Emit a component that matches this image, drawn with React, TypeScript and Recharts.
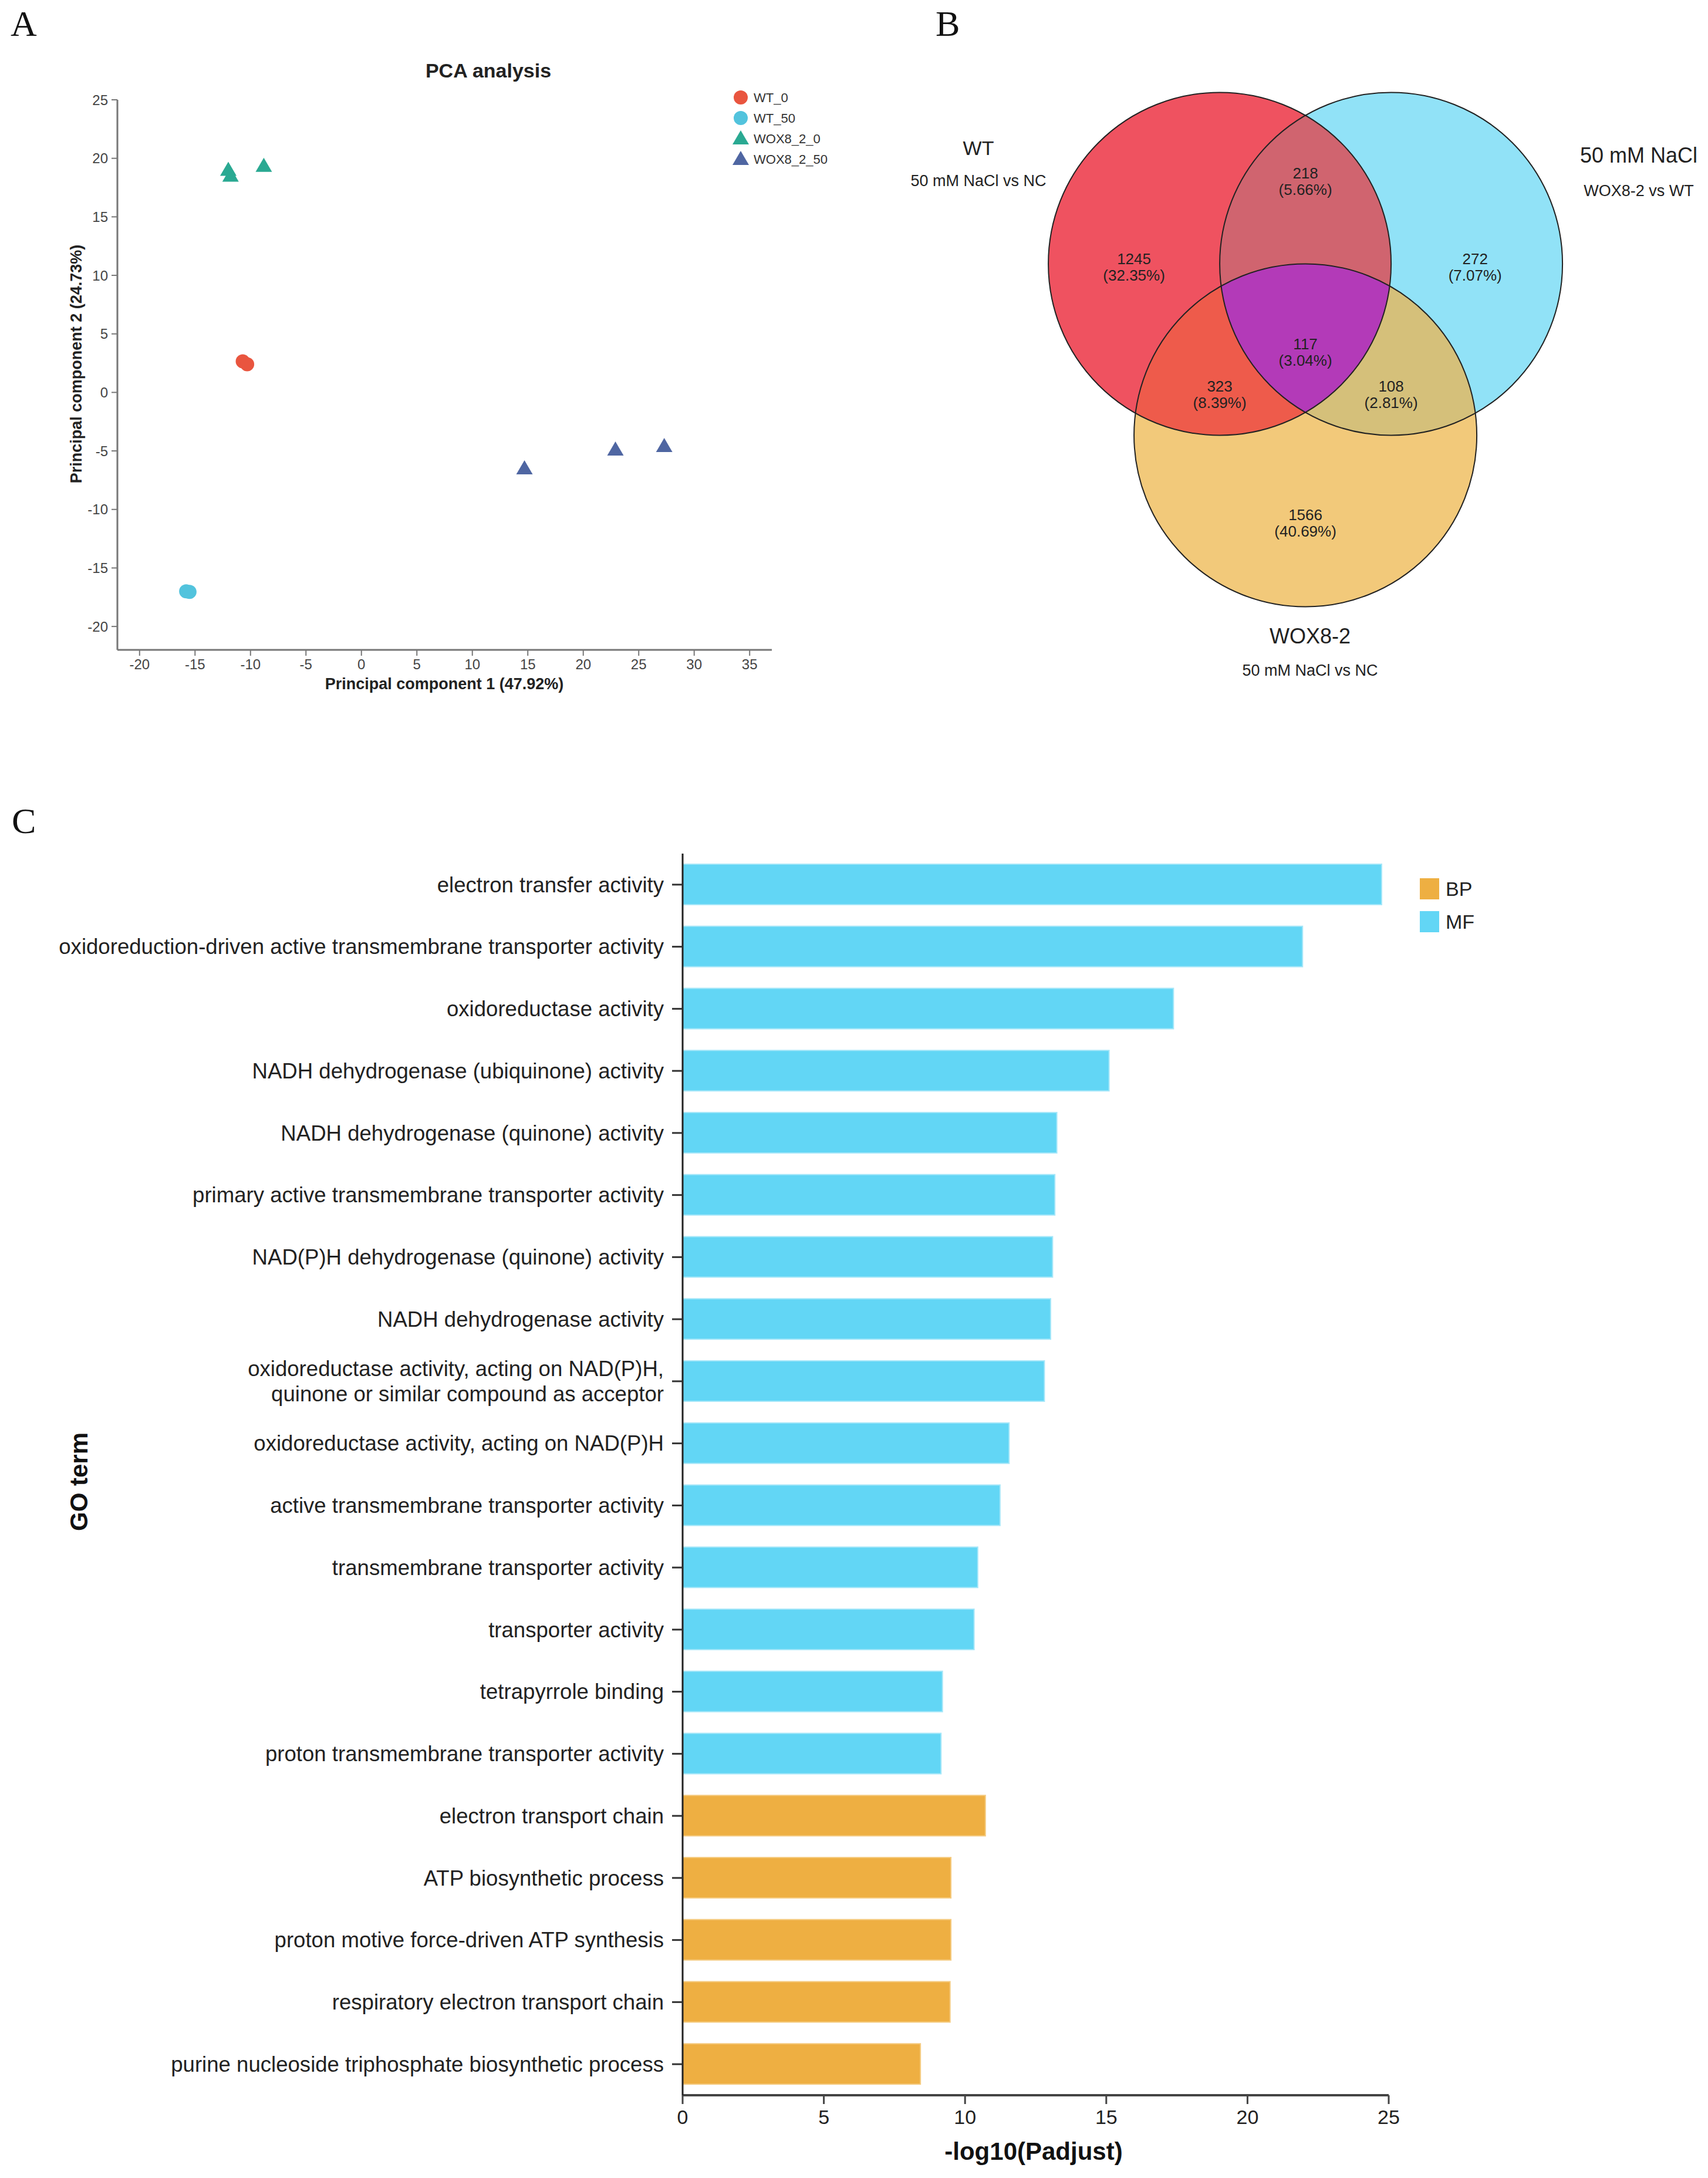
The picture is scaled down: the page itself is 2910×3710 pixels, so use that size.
import { Bar, BarChart, Cell, Scatter, ScatterChart, XAxis, YAxis } from 'recharts'

const SANS = '"Liberation Sans", Arial, sans-serif'
const SERIF = '"Liberation Serif", "Times New Roman", serif'

// ---- A: PCA ----
const PCA_GROUPS = ['WT_0', 'WT_50', 'WOX8_2_0', 'WOX8_2_50']
const PCA_COLORS = ['#E9553F', '#52C3DD', '#2AA992', '#4F66A2']
const PCA_SHAPES = ['circle', 'circle', 'triangle', 'triangle']
const WT_0 = [{ x: -10.7, y: 2.65 }, { x: -10.3, y: 2.4 }]
const WT_50 = [{ x: -15.8, y: -17.0 }, { x: -15.5, y: -17.05 }]
const WOX8_2_0 = [{ x: -12.0, y: 19.0 }, { x: -11.8, y: 18.5 }, { x: -8.8, y: 19.35 }]
const WOX8_2_50 = [{ x: 14.7, y: -6.5 }, { x: 22.9, y: -4.9 }, { x: 27.3, y: -4.6 }]
const PCA_DATA = [WT_0, WT_50, WOX8_2_0, WOX8_2_50]
const PCA_X_TICKS = [-20, -15, -10, -5, 0, 5, 10, 15, 20, 25, 30, 35]
const PCA_Y_TICKS = [-20, -15, -10, -5, 0, 5, 10, 15, 20, 25]

// ---- B: Venn (units of one circle radius) ----
const VENN_SETS = [
  { id: 'WT', x: -0.5, y: 0.5, color: '#EF5260' },
  { id: 'NaCl', x: 0.5, y: 0.5, color: '#91E2F7' },
  { id: 'WOX', x: 0, y: -0.5, color: '#F2C97A' },
]
const VENN_OVERLAPS = [
  { sets: ['WT', 'NaCl'], color: '#D0646F' },
  { sets: ['WT', 'WOX'], color: '#EE5B4B' },
  { sets: ['NaCl', 'WOX'], color: '#D5C07A' },
  { sets: ['WT', 'NaCl', 'WOX'], color: '#B33AB8' },
]
const VENN_REGIONS = [
  { x: -1.0, y: 0.48, count: '1245', pct: '(32.35%)' },
  { x: 0, y: 0.98, count: '218', pct: '(5.66%)' },
  { x: 0.99, y: 0.48, count: '272', pct: '(7.07%)' },
  { x: 0, y: -0.015, count: '117', pct: '(3.04%)' },
  { x: -0.5, y: -0.26, count: '323', pct: '(8.39%)' },
  { x: 0.5, y: -0.26, count: '108', pct: '(2.81%)' },
  { x: 0, y: -1.01, count: '1566', pct: '(40.69%)' },
]
const VENN_W = 1460
const VENN_H = 1200
const VENN_X_DOMAIN = [-2.651, 2.349]
const VENN_Y_DOMAIN = [-2.07, 2.039]
const VENN_R_PX = VENN_W / (VENN_X_DOMAIN[1] - VENN_X_DOMAIN[0])

// ---- C: GO enrichment ----
const GO_TERMS = [
  'electron transfer activity',
  'oxidoreduction-driven active transmembrane transporter activity',
  'oxidoreductase activity',
  'NADH dehydrogenase (ubiquinone) activity',
  'NADH dehydrogenase (quinone) activity',
  'primary active transmembrane transporter activity',
  'NAD(P)H dehydrogenase (quinone) activity',
  'NADH dehydrogenase activity',
  'oxidoreductase activity, acting on NAD(P)H,\nquinone or similar compound as acceptor',
  'oxidoreductase activity, acting on NAD(P)H',
  'active transmembrane transporter activity',
  'transmembrane transporter activity',
  'transporter activity',
  'tetrapyrrole binding',
  'proton transmembrane transporter activity',
  'electron transport chain',
  'ATP biosynthetic process',
  'proton motive force-driven ATP synthesis',
  'respiratory electron transport chain',
  'purine nucleoside triphosphate biosynthetic process',
]
const GO_VALUES = [24.75, 21.95, 17.38, 15.1, 13.25, 13.18, 13.1, 13.03, 12.81, 11.56, 11.24, 10.45, 10.32, 9.2, 9.15, 10.72, 9.5, 9.5, 9.47, 8.42]
const GO_TYPES = ['MF', 'MF', 'MF', 'MF', 'MF', 'MF', 'MF', 'MF', 'MF', 'MF', 'MF', 'MF', 'MF', 'MF', 'MF', 'BP', 'BP', 'BP', 'BP', 'BP']
const GO_COLORS: Record<string, string> = { BP: '#EEAF42', MF: '#62D6F5' }
const GO_STROKES: Record<string, string> = { BP: '#F5CC82', MF: '#A6E7F9' }
const GO_X_TICKS = [0, 5, 10, 15, 20, 25]

const goRows = GO_TERMS.map((term, i) => ({ term, value: GO_VALUES[i], type: GO_TYPES[i] }))

function PcaShape(kind: string, color: string) {
  return (p: any) => {
    const { cx, cy } = p
    if (kind === 'circle') return <circle cx={cx} cy={cy} r={12} fill={color} />
    return <polygon points={`${cx},${cy - 14} ${cx - 14},${cy + 10} ${cx + 14},${cy + 10}`} fill={color} />
  }
}

function SetShape(p: any) {
  const { cx, cy, payload } = p
  return (
    <g>
      <defs>
        <clipPath id={`venn-${payload.id}`}>
          <circle cx={cx} cy={cy} r={VENN_R_PX} />
        </clipPath>
      </defs>
      <circle cx={cx} cy={cy} r={VENN_R_PX} fill={payload.color} />
    </g>
  )
}

function OverlapShape(p: any) {
  const { cx, cy, payload } = p
  let node = <circle cx={cx} cy={cy} r={VENN_R_PX} fill={payload.color} />
  for (const c of payload.clips as string[]) node = <g clipPath={`url(#venn-${c})`}>{node}</g>
  return node
}

function OutlineShape(p: any) {
  return <circle cx={p.cx} cy={p.cy} r={VENN_R_PX} fill="none" stroke="#222" strokeWidth={2} />
}

function RegionLabel(p: any) {
  const { cx, cy, payload } = p
  return (
    <text x={cx} y={cy} textAnchor="middle" fontSize={26} fill="#222" fontFamily={SANS}>
      <tspan x={cx} y={cy - 14} dy="0.35em">{payload.count}</tspan>
      <tspan x={cx} y={cy + 14} dy="0.35em">{payload.pct}</tspan>
    </text>
  )
}

function TermTick(p: any) {
  const { x, y, payload } = p
  const lines = String(payload.value).split('\n')
  const first = -(lines.length - 1) * 21.5
  return (
    <text x={x} y={y} textAnchor="end" fontSize={36.6} fill="#222" fontFamily={SANS}>
      {lines.map((l, i) => (
        <tspan key={i} x={x} y={y + first + i * 43} dy="0.35em">{l}</tspan>
      ))}
    </text>
  )
}

const overlapData = VENN_OVERLAPS.map((o) => {
  const base = VENN_SETS.find((s) => s.id === o.sets[0])!
  return { x: base.x, y: base.y, clips: o.sets.slice(1), color: o.color }
})

export default function App() {
  const pcaTick = { fontSize: 24, fill: '#444', fontFamily: SANS }
  return (
    <div style={{ position: 'absolute', left: 0, top: 0, width: 2910, height: 3710, background: '#fff', fontFamily: SANS }}>
      {/* A */}
      <div style={{ position: 'absolute', left: 0, top: 0 }}>
        <ScatterChart width={1400} height={1200} margin={{ top: 170, right: 85, bottom: 33, left: 120 }}>
          <XAxis type="number" dataKey="x" domain={[-22, 37]} ticks={PCA_X_TICKS} interval={0} height={60}
            tick={pcaTick} tickSize={10} tickMargin={6} axisLine={{ stroke: '#777', strokeWidth: 3 }} tickLine={{ stroke: '#777', strokeWidth: 2 }} />
          <YAxis type="number" dataKey="y" domain={[-22, 25]} ticks={PCA_Y_TICKS} interval={0} width={80}
            tick={pcaTick} tickSize={10} tickMargin={6} axisLine={{ stroke: '#777', strokeWidth: 3 }} tickLine={{ stroke: '#777', strokeWidth: 2 }} />
          {PCA_GROUPS.map((g, i) => (
            <Scatter key={g} name={g} data={PCA_DATA[i]} isAnimationActive={false} shape={PcaShape(PCA_SHAPES[i], PCA_COLORS[i])} />
          ))}
        </ScatterChart>
      </div>

      {/* B */}
      <div style={{ position: 'absolute', left: 1450, top: 0 }}>
        <ScatterChart width={VENN_W} height={VENN_H} margin={{ top: 0, right: 0, bottom: 0, left: 0 }}>
          <XAxis type="number" dataKey="x" domain={VENN_X_DOMAIN} hide />
          <YAxis type="number" dataKey="y" domain={VENN_Y_DOMAIN} hide />
          <Scatter data={VENN_SETS} isAnimationActive={false} shape={SetShape} />
          <Scatter data={overlapData} isAnimationActive={false} shape={OverlapShape} />
          <Scatter data={VENN_SETS} isAnimationActive={false} shape={OutlineShape} />
          <Scatter data={VENN_REGIONS} isAnimationActive={false} shape={RegionLabel} />
        </ScatterChart>
      </div>

      {/* C */}
      <div style={{ position: 'absolute', left: 0, top: 1400 }}>
        <BarChart layout="vertical" width={2600} height={2310} data={goRows} margin={{ top: 54, right: 234, bottom: 61, left: 0 }}>
          <XAxis type="number" domain={[0, 25]} ticks={GO_X_TICKS} interval={0} height={80}
            tick={{ fontSize: 34, fill: '#222', fontFamily: SANS }} tickSize={15} tickMargin={10}
            axisLine={{ stroke: '#444', strokeWidth: 4 }} tickLine={{ stroke: '#444', strokeWidth: 3 }} />
          <YAxis type="category" dataKey="term" width={1163} interval={0} tick={TermTick} tickSize={18} tickMargin={14}
            axisLine={{ stroke: '#222', strokeWidth: 3 }} tickLine={{ stroke: '#333', strokeWidth: 3 }} />
          <Bar dataKey="value" barSize={69} isAnimationActive={false} strokeWidth={2}>
            {goRows.map((r, i) => (
              <Cell key={i} fill={GO_COLORS[r.type]} stroke={GO_STROKES[r.type]} />
            ))}
          </Bar>
        </BarChart>
      </div>

      {/* text overlay */}
      <svg width={2910} height={3710} style={{ position: 'absolute', left: 0, top: 0, pointerEvents: 'none' }} fontFamily={SANS}>
        <text x={18} y={61} fontFamily={SERIF} fontSize={62} fill="#111">A</text>
        <text x={1594} y={61} fontFamily={SERIF} fontSize={62} fill="#111">B</text>
        <text x={20} y={1419} fontFamily={SERIF} fontSize={62} fill="#111">C</text>

        <text x={832} y={120} textAnchor="middle" dominantBaseline="central" fontSize={34} fontWeight="bold" fill="#222">PCA analysis</text>
        <text x={757} y={1165} textAnchor="middle" dominantBaseline="central" fontSize={27} fontWeight="bold" fill="#222">Principal component 1 (47.92%)</text>
        <text transform="translate(130,620) rotate(-90)" textAnchor="middle" dominantBaseline="central" fontSize={27} fontWeight="bold" fill="#222">Principal component 2 (24.73%)</text>
        {PCA_GROUPS.map((g, i) => {
          const y = 166 + i * 35
          return (
            <g key={g}>
              {PCA_SHAPES[i] === 'circle'
                ? <circle cx={1262} cy={y} r={12} fill={PCA_COLORS[i]} />
                : <polygon points={`1262,${y - 14} 1248,${y + 10} 1276,${y + 10}`} fill={PCA_COLORS[i]} />}
              <text x={1284} y={y} dominantBaseline="central" fontSize={22} fill="#333">{g}</text>
            </g>
          )
        })}

        <text x={1667} y={252} textAnchor="middle" dominantBaseline="central" fontSize={34} fill="#222">WT</text>
        <text x={1667} y={308} textAnchor="middle" dominantBaseline="central" fontSize={27} fill="#222">50 mM NaCl vs NC</text>
        <text x={2792} y={264} textAnchor="middle" dominantBaseline="central" fontSize={36} fill="#222">50 mM NaCl</text>
        <text x={2792} y={325} textAnchor="middle" dominantBaseline="central" fontSize={27} fill="#222">WOX8-2 vs WT</text>
        <text x={2232} y={1083} textAnchor="middle" dominantBaseline="central" fontSize={36} fill="#222">WOX8-2</text>
        <text x={2232} y={1142} textAnchor="middle" dominantBaseline="central" fontSize={27} fill="#222">50 mM NaCl vs NC</text>

        <text transform="translate(134,2524) rotate(-90)" textAnchor="middle" dominantBaseline="central" fontSize={42} fontWeight="bold" fill="#111">GO term</text>
        <text x={1761} y={3664} textAnchor="middle" dominantBaseline="central" fontSize={42} fontWeight="bold" fill="#111">-log10(Padjust)</text>
        {['BP', 'MF'].map((k, i) => (
          <g key={k}>
            <rect x={2419} y={1496 + i * 56} width={33} height={36} fill={GO_COLORS[k]} />
            <text x={2463} y={1514 + i * 56} dominantBaseline="central" fontSize={34} fill="#222">{k}</text>
          </g>
        ))}
      </svg>
    </div>
  )
}
